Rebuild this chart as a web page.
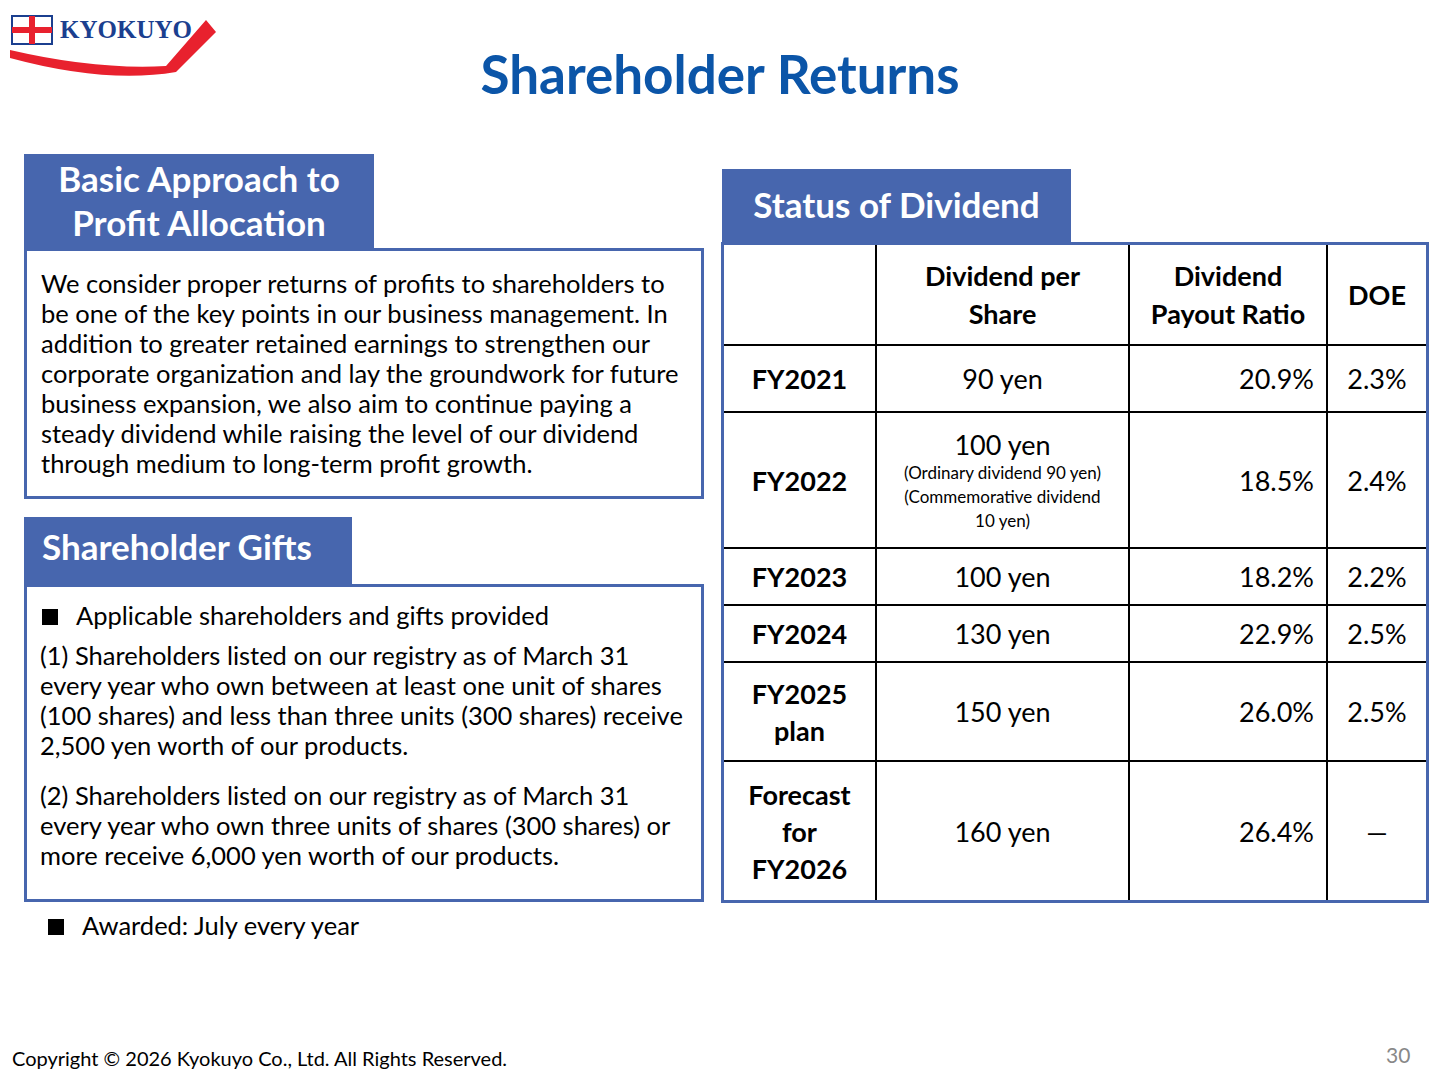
<!DOCTYPE html>
<html>
<head>
<meta charset="utf-8">
<script src="https://cdn.jsdelivr.net/npm/chart.js@4"></script>
<style>
  body { margin:0; width:1440px; height:1080px; background:#fff; font-family: Lato, "Noto Sans", sans-serif; position:relative; overflow:hidden; color:#000; }
  .abs { position:absolute; }
  #title { left:0; width:1440px; top:42px; text-align:center; font-size:53px; font-weight:bold; color:#0b55a8; }
  .tab { background:#4766ae; color:#fff; font-weight:bold; font-size:35px; line-height:44px; text-align:center; }
  .box { border:3px solid #4766ae; box-sizing:border-box; font-size:25.5px; line-height:30px; }
  table { border-collapse:collapse; position:absolute; left:722px; top:243px; width:704px; font-size:27px; table-layout:fixed; }
  td { border:2px solid #000; text-align:center; padding:0 12px; }
  table { outline:3px solid #4766ae; outline-offset:-2px; }
  td.r { text-align:right; }
  td.b { font-weight:bold; }
  .small { font-size:17px; line-height:24px; display:block; }
  .sq { display:inline-block; width:16px; height:16px; background:#000; margin-right:18px; }
</style>
</head>
<body>
<svg class="abs" style="left:6px;top:10px" width="212" height="70">
  <path d="M4 40 Q90 60 160 56 L200 10 L210 22 L170 62 Q100 74 4 48 Z" fill="#e8212e"/>
  <rect x="6" y="6" width="40" height="28" fill="#fff" stroke="#1b3f8f" stroke-width="2"/>
  <path d="M6 20 H46 M26 6 V34" stroke="#e8212e" stroke-width="6"/>
  <text x="54" y="28" font-family="Liberation Serif" font-weight="bold" font-size="25" fill="#1b3f8f">KYOKUYO</text>
</svg>
<div id="title" class="abs">Shareholder Returns</div>

<div class="abs tab" style="left:24px;top:154px;width:350px;height:94px;padding-top:2px;box-sizing:border-box">Basic Approach to<br>Profit Allocation</div>
<div class="abs box" style="left:24px;top:248px;width:680px;height:251px;padding:17px 20px 0 14px">We consider proper returns of profits to shareholders to be one of the key points in our business management. In addition to greater retained earnings to strengthen our corporate organization and lay the groundwork for future business expansion, we also aim to continue paying a steady dividend while raising the level of our dividend through medium to long-term profit growth.</div>

<div class="abs tab" style="left:24px;top:517px;width:328px;height:68px;line-height:58px;text-align:left;padding-left:18px;box-sizing:border-box">Shareholder Gifts</div>
<div class="abs box" style="left:24px;top:584px;width:680px;height:318px;padding:13px 18px 0 13px">
  <div style="padding-left:2px"><span class="sq"></span>Applicable shareholders and gifts provided</div>
  <div style="margin-top:10px">(1) Shareholders listed on our registry as of March 31 every year who own between at least one unit of shares (100 shares) and less than three units (300 shares) receive 2,500 yen worth of our products.</div>
  <div style="margin-top:20px">(2) Shareholders listed on our registry as of March 31 every year who own three units of shares (300 shares) or more receive 6,000 yen worth of our products.</div>
</div>
<div class="abs" style="left:48px;top:910px;font-size:25.5px"><span class="sq"></span>Awarded: July every year</div>

<div class="abs tab" style="left:722px;top:169px;width:349px;height:76px;line-height:70px">Status of Dividend</div>
<table id="tbl"></table>

<div class="abs" style="left:12px;top:1046px;font-size:20px">Copyright © 2026 Kyokuyo Co., Ltd. All Rights Reserved.</div>
<div class="abs" style="left:1386px;top:1042px;font-size:21px;color:#888">30</div>
<canvas id="c" width="1" height="1" style="display:none"></canvas>

<script>
const headers = ['', 'Dividend per<br>Share', 'Dividend<br>Payout Ratio', 'DOE'];
const years = ['FY2021', 'FY2022', 'FY2023', 'FY2024', 'FY2025<br>plan', 'Forecast<br>for<br>FY2026'];
const dividends = ['90 yen', '100 yen', '100 yen', '130 yen', '150 yen', '160 yen'];
const dividendNotes = ['', '(Ordinary dividend 90 yen)<br>(Commemorative dividend<br>10 yen)', '', '', '', ''];
const payoutRatios = ['20.9%', '18.5%', '18.2%', '22.9%', '26.0%', '26.4%'];
const doe = ['2.3%', '2.4%', '2.2%', '2.5%', '2.5%', '—'];
const rowHeights = [101, 67, 136, 57, 57, 99, 140];
const colWidths = [153, 253, 198, 100];

const tbl = document.getElementById('tbl');
let html = '<colgroup>' + colWidths.map(w => '<col style="width:' + w + 'px">').join('') + '</colgroup>';
html += '<tr style="height:' + rowHeights[0] + 'px">' +
  headers.map(h => '<td class="b" style="line-height:38px">' + h + '</td>').join('') + '</tr>';
years.forEach((y, i) => {
  html += '<tr style="height:' + rowHeights[i + 1] + 'px">' +
    '<td class="b" style="line-height:37px">' + y + '</td>' +
    '<td>' + dividends[i] + (dividendNotes[i] ? '<span class="small">' + dividendNotes[i] + '</span>' : '') + '</td>' +
    '<td class="r">' + payoutRatios[i] + '</td>' +
    '<td>' + doe[i] + '</td></tr>';
});
tbl.innerHTML = html;
</script>
</body>
</html>
